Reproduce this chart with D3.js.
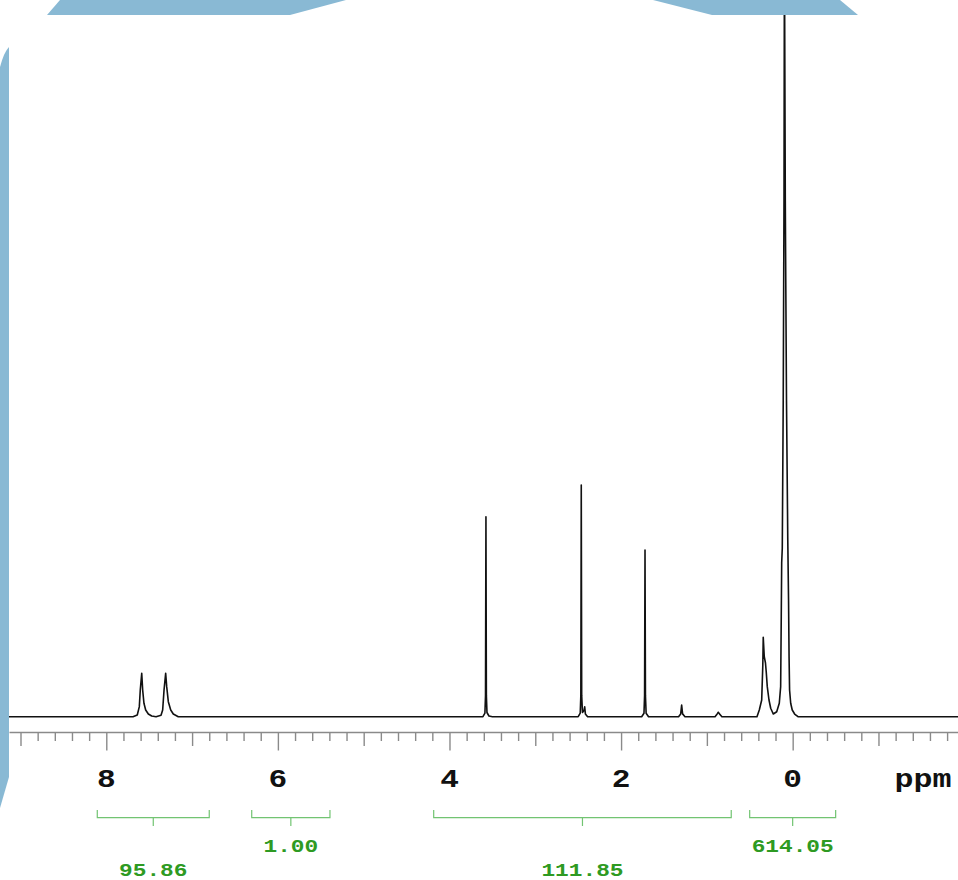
<!DOCTYPE html>
<html>
<head>
<meta charset="utf-8">
<script src="https://cdn.jsdelivr.net/npm/d3@7"></script>
<style>
  body { margin: 0; background: #ffffff; }
  svg { display: block; }
</style>
</head>
<body>
<svg id="svgNMRplot"></svg>
<script>
var outerWidth = 958, outerHeight = 880
var plotLeft = 9, plotRight = 958, plotTop = 15
var baseY = 716.7, axisY = 732

// spectrum trace: [shift in ppm, intensity in % of full height]
var specPoints = [
    [9.134, 0], [7.689, 0],
    [7.639, 0.24], [7.615, 1.43], [7.604, 3.80], [7.587, 6.18], [7.576, 3.80], [7.561, 1.91],
    [7.541, 0.95], [7.510, 0.38], [7.471, 0.10], [7.420, 0.0], [7.362, 0.20], [7.343, 0.95],
    [7.327, 3.80], [7.308, 6.18], [7.296, 4.28], [7.277, 2.14], [7.249, 0.95], [7.219, 0.38],
    [7.161, 0],
    [3.610, 0], [3.587, 0.5], [3.580, 3.0], [3.575, 28.50], [3.570, 3.0], [3.563, 0.6], [3.540, 0.1], [3.500, 0],
    [2.500, 0], [2.476, 0.5], [2.469, 3.0], [2.464, 33.02], [2.459, 3.0], [2.450, 0.6], [2.432, 0.9],
    [2.424, 1.4], [2.416, 0.4], [2.390, 0],
    [1.760, 0], [1.733, 0.5], [1.726, 3.0], [1.721, 23.76], [1.716, 3.0], [1.708, 0.5], [1.680, 0],
    [1.330, 0], [1.305, 0.4], [1.294, 1.67], [1.283, 0.4], [1.255, 0],
    [0.905, 0], [0.880, 0.4], [0.867, 0.63], [0.852, 0.4], [0.825, 0],
    [0.416, 0], [0.389, 0.95], [0.361, 2.38], [0.348, 7.37], [0.343, 11.32], [0.331, 8.55],
    [0.317, 7.65], [0.308, 6.37], [0.296, 4.28], [0.276, 2.38], [0.256, 1.20], [0.226, 0.38],
    [0.186, 0.71], [0.156, 1.91], [0.140, 4.28], [0.133, 14.25], [0.128, 21.95], [0.121, 24.04],
    [0.110, 45.1], [0.101, 73.6], [0.096, 110], [0.086, 73.6], [0.072, 45.1], [0.057, 25.2],
    [0.048, 16.6], [0.042, 8.5], [0.036, 3.8], [0.023, 1.91], [0.005, 0.95], [-0.023, 0.38],
    [-0.062, 0], [-1.927, 0]
]

var tickLabels = [8, 6, 4, 2, 0]
var axisUnit = "ppm"

// integral regions (ppm) and their values
var integralFrom = [8.105, 6.305, 4.184, 0.501]
var integralTo = [6.800, 5.393, 0.716, -0.501]
var integralValues = ["95.86", "1.00", "111.85", "614.05"]

var monoFont = "'Liberation Mono', 'Courier New', monospace"

var svg = d3.select("svg#svgNMRplot")
    .attr("width", outerWidth)
    .attr("height", outerHeight)

// light blue watermark peeking out round the white sheet
var bg = svg.append("g").attr("fill", "#89b9d4")
bg.append("path").attr("d", "M60,0 L346,0 L290,15 L47,15 Z")
bg.append("path").attr("d", "M653,0 L840,0 L858,15 L712,15 Z")
bg.append("path").attr("d", "M0,67 Q4,52 9,47 L9,777 L0,808 Z")

var xScale = d3.scaleLinear().domain([9.134, -1.927]).range([plotLeft, plotRight])
var yScale = d3.scaleLinear().domain([0, 100]).range([baseY, plotTop])

svg.append("clipPath")
    .attr("id", "plot-clip")
    .append("rect")
    .attr("x", plotLeft)
    .attr("y", plotTop)
    .attr("width", plotRight - plotLeft)
    .attr("height", axisY - plotTop)

var line = d3.line()
    .x(function(d){ return xScale(d[0]) })
    .y(function(d){ return yScale(d[1]) })

svg.append("path")
    .datum(specPoints)
    .attr("clip-path", "url(#plot-clip)")
    .attr("d", line)
    .attr("fill", "none")
    .attr("stroke", "#111")
    .attr("stroke-width", 1.6)
    .attr("stroke-linejoin", "round")

// axis: ticks every 0.2 ppm, longer at odd and even integers
var minorTicks = d3.range(90, -19, -2).map(function(d){ return d / 10 })

var axis = svg.append("g")
    .attr("transform", "translate(0," + axisY + ")")
    .call(d3.axisBottom(xScale).tickValues(minorTicks).tickSize(9).tickSizeOuter(0).tickFormat(""))

axis.select(".domain").attr("stroke", "#8a8a8a").attr("stroke-width", 1.5)
axis.selectAll(".tick line")
    .attr("stroke", "#8a8a8a")
    .attr("stroke-width", 1.4)
    .attr("y2", function(d){
        var r = Math.round(d * 10)
        if (r % 20 === 0) return 18.5
        if (r % 10 === 0) return 14
        return 9
    })

svg.append("g")
    .selectAll("text")
    .data(tickLabels)
    .enter()
    .append("text")
    .attr("transform", function(d){ return "translate(" + xScale(d) + ",787.3) scale(1.2,1)" })
    .attr("text-anchor", "middle")
    .attr("font-family", monoFont)
    .attr("font-weight", "bold")
    .attr("font-size", "26px")
    .attr("fill", "#111")
    .text(function(d){ return d })

svg.append("text")
    .attr("transform", "translate(923,787.3) scale(1.22,1)")
    .attr("text-anchor", "middle")
    .attr("font-family", monoFont)
    .attr("font-weight", "bold")
    .attr("font-size", "26px")
    .attr("fill", "#111")
    .text(axisUnit)

// integral brackets
var integrals = integralValues.map(function(v, i){
    return { from: integralFrom[i], to: integralTo[i], value: v, row: i % 2 }
})

var brackets = svg.append("g")
    .selectAll("g")
    .data(integrals)
    .enter()
    .append("g")

brackets.append("path")
    .attr("d", function(d){
        var x0 = xScale(d.from), x1 = xScale(d.to), xm = (x0 + x1) / 2
        return "M" + x0 + ",810V817.7H" + x1 + "V810M" + xm + ",817.7V826"
    })
    .attr("fill", "none")
    .attr("stroke", "#72c472")
    .attr("stroke-width", 1.2)

brackets.append("text")
    .attr("transform", function(d){
        var xm = (xScale(d.from) + xScale(d.to)) / 2
        return "translate(" + xm + "," + (d.row === 0 ? 875.5 : 851.7) + ") scale(1.2,1)"
    })
    .attr("text-anchor", "middle")
    .attr("font-family", monoFont)
    .attr("font-weight", "bold")
    .attr("font-size", "19px")
    .attr("fill", "#2e9a22")
    .text(function(d){ return d.value })
</script>
</body>
</html>
